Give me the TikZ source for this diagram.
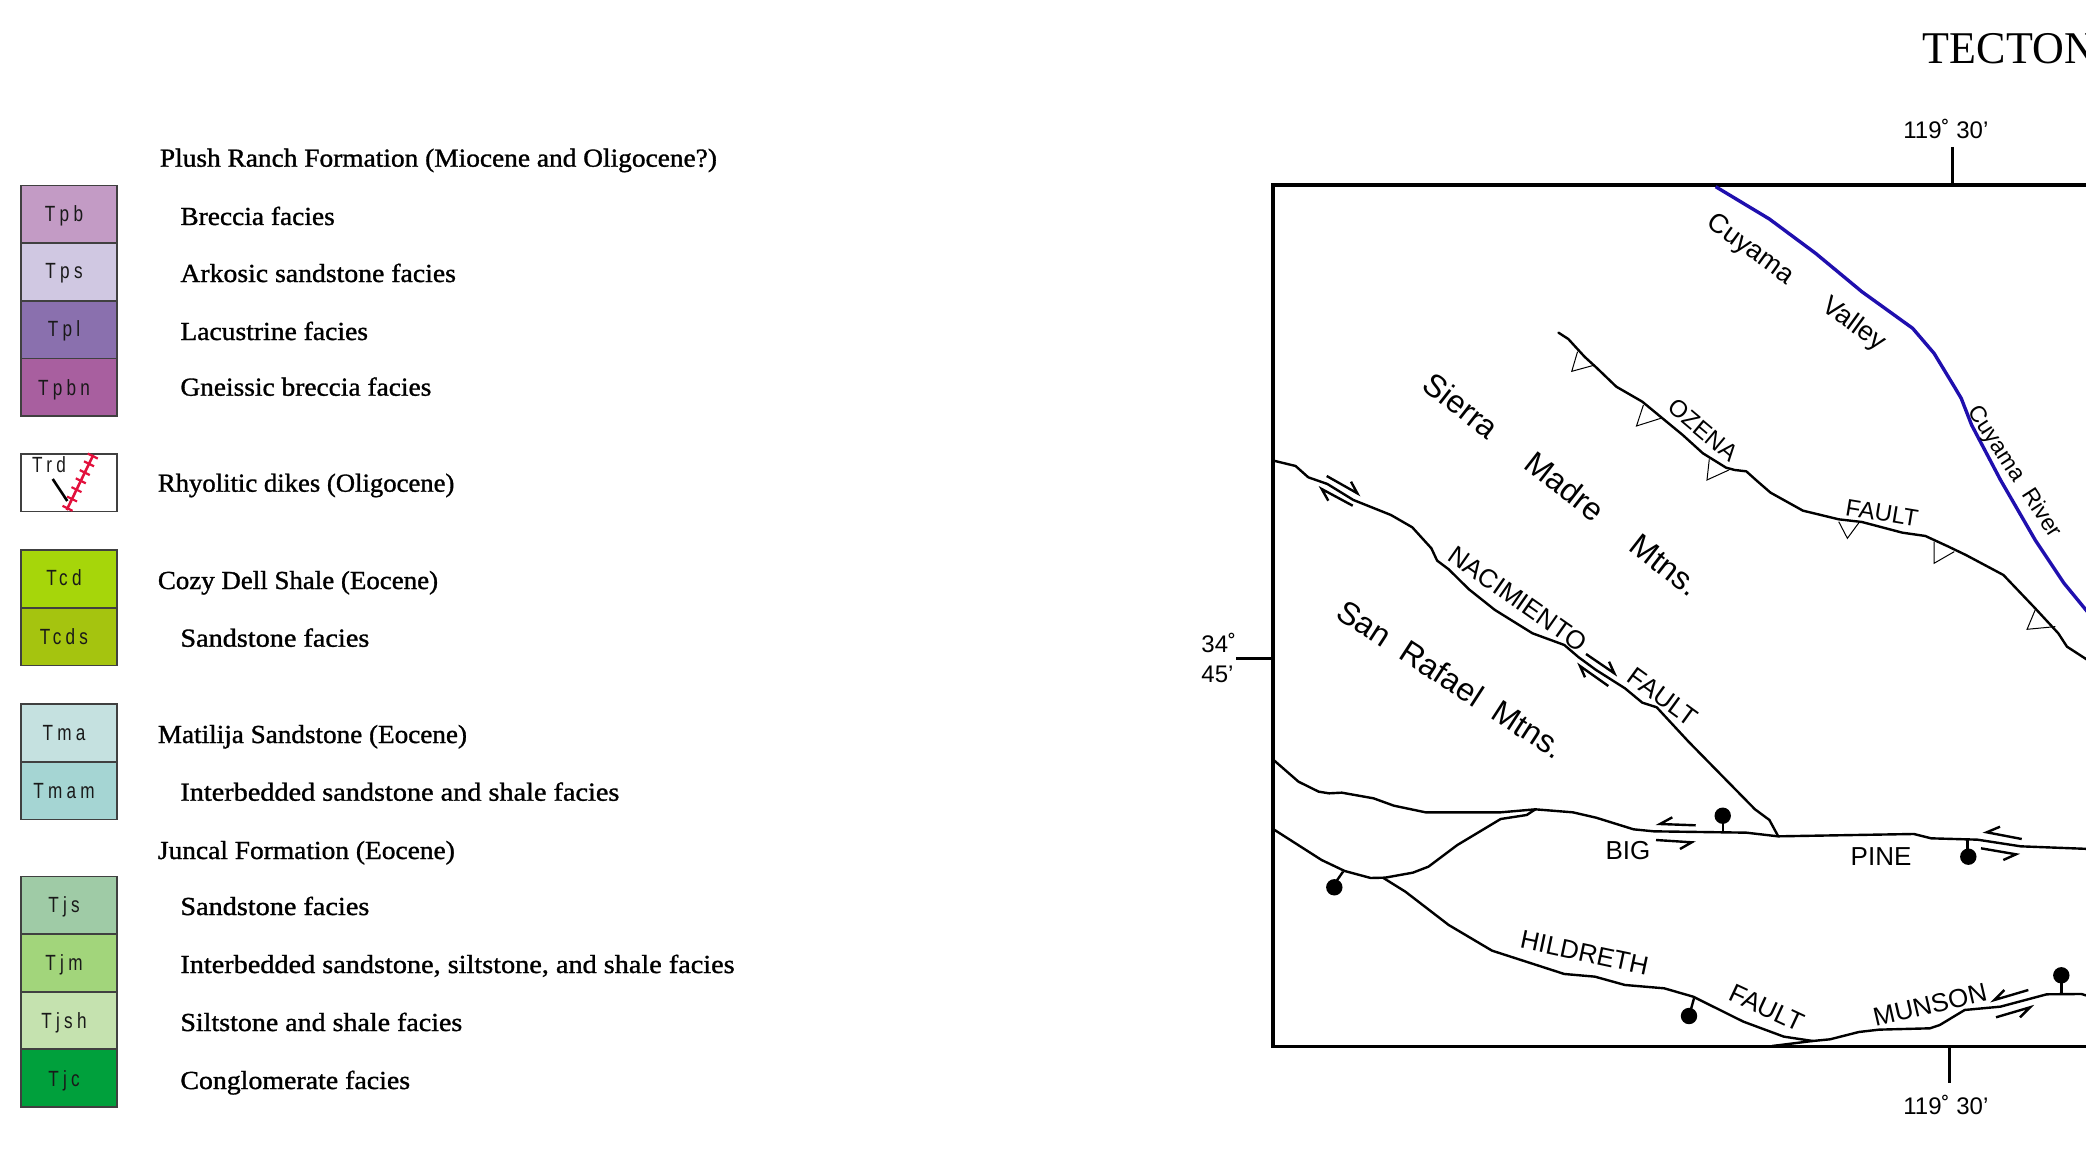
\documentclass[tikz,border=0pt]{standalone}
\usepackage{fontspec}
\usepackage{graphicx}
\usetikzlibrary{calc}
\setmainfont{Liberation Sans}
\newfontfamily\legfont[FakeBold=1.2,FakeStretch=1.04]{Liberation Serif}
\newfontfamily\boxfont[LetterSpace=25]{Liberation Sans}
\newfontfamily\titlefont{Liberation Serif}
\newcommand{\sx}[2]{\scalebox{#1}[1]{#2}}
\definecolor{cTpb}{HTML}{C39BC5}
\definecolor{cTps}{HTML}{D0C8E2}
\definecolor{cTpl}{HTML}{8A70AE}
\definecolor{cTpbn}{HTML}{A85F9F}
\definecolor{cTcd}{HTML}{A6D60A}
\definecolor{cTcds}{HTML}{A5C40F}
\definecolor{cTma}{HTML}{C5E1E0}
\definecolor{cTmam}{HTML}{A5D5D3}
\definecolor{cTjs}{HTML}{9FCBA6}
\definecolor{cTjm}{HTML}{A2D57B}
\definecolor{cTjsh}{HTML}{C5E2AF}
\definecolor{cTjc}{HTML}{00A03C}
\definecolor{riverblue}{HTML}{1F0FAE}
\definecolor{dikered}{HTML}{E2103C}
\tikzset{
  unit/.style={draw=black!75,line width=0.6pt},
  boxlabel/.style={anchor=base,inner sep=0pt,font=\boxfont\fontsize{11}{13}\selectfont,text=black!90},
  legtext/.style={anchor=base west,inner sep=0pt,font=\legfont\fontsize{13}{15}\selectfont},
  coord/.style={anchor=base west,inner sep=0pt,font=\fontsize{12}{14}\selectfont},
  maplab/.style={inner sep=0pt,font=\fontsize{13}{15}\selectfont},
  smalllab/.style={inner sep=0pt,font=\fontsize{12}{14}\selectfont},
  rangelab/.style={inner sep=0pt,font=\fontsize{16}{18}\selectfont},
  frameline/.style={line width=1.7pt,line cap=rect},
  tickline/.style={line width=1.5pt},
  fault/.style={line width=1.2pt,line join=round,line cap=round},
  barb/.style={line width=0.5pt},
  halfarrow/.style={line width=1.2pt,line join=miter},
  river/.style={color=riverblue,line width=1.7pt,line join=round},
  cropB/.style={shift={(1180,300)},xscale=0.5778,yscale=0.3333},
  cropC/.style={shift={(1180,740)},xscale=0.5778,yscale=0.3333},
}
\begin{document}
\begin{tikzpicture}[x=0.5pt,y=-0.5pt]
\useasboundingbox (0,0) rectangle (2086,1150);
\clip (0,0) rectangle (2086,1150);
% legend boxes
\foreach \n/\a/\b in {Tpb/185.7/243,Tps/243/301,Tpl/301/358.7,Tpbn/358.7/416,
  Tcd/550/608,Tcds/608/665.7,Tma/704/762,Tmam/762/819.7,
  Tjs/876.7/934,Tjm/934/992,Tjsh/992/1049,Tjc/1049/1107}
  {\draw[unit,fill=c\n] (21,\a) rectangle (117,\b);}
\foreach \n/\y in {Tpb/221.7,Tps/278.7,Tpl/336.7,Tpbn/395,Tcd/585.7,Tcds/644,Tma/740.7,Tmam/798,Tjs/912.7,Tjm/970,Tjsh/1028,Tjc/1086}
  {\node[boxlabel] (lab\n) at (64,\y) {\sx{0.78}{\n}};}
% Trd box
\draw[unit] (21,454) rectangle (117,511.5);
\node[boxlabel] (labTrd) at (49,472.7) {\sx{0.78}{Trd}};
\coordinate (dikeA) at (66.7,510);
\coordinate (dikeB) at (93.3,455);
\draw[color=dikered,line width=1.3pt] (dikeA) -- (dikeB);
\foreach \f in {0.03,0.2,0.37,0.53,0.68,0.84,0.98}
  {\draw[color=dikered,line width=1.1pt] ($(dikeA)!\f!(dikeB)+(-5,-2.5)$) -- ($(dikeA)!\f!(dikeB)+(5,2.5)$);}
\draw[line width=1.3pt] (52.7,479) -- (67.3,501);
% legend texts
\node[legtext] (t1) at (159.5,166.7) {\sx{1.012}{Plush Ranch Formation (Miocene and Oligocene?)}};
\node[legtext] (t2) at (180,225) {\sx{1.013}{Breccia facies}};
\node[legtext] (t3) at (180,282) {\sx{1.025}{Arkosic sandstone facies}};
\node[legtext] (t4) at (180,340) {\sx{1.02}{Lacustrine facies}};
\node[legtext] (t5) at (180,395.7) {\sx{1.013}{Gneissic breccia facies}};
\node[legtext] (t6) at (157.5,491.7) {\sx{0.987}{Rhyolitic dikes (Oligocene)}};
\node[legtext] (t7) at (157.5,589) {\sx{0.995}{Cozy Dell Shale (Eocene)}};
\node[legtext] (t8) at (180,646.7) {\sx{1.044}{Sandstone facies}};
\node[legtext] (t9) at (157.5,743) {\sx{1.004}{Matilija Sandstone (Eocene)}};
\node[legtext] (t10) at (180,800.7) {\sx{1.044}{Interbedded sandstone and shale facies}};
\node[legtext] (t11) at (157.5,859) {\sx{1.014}{Juncal Formation (Eocene)}};
\node[legtext] (t12) at (180,915) {\sx{1.044}{Sandstone facies}};
\node[legtext] (t13) at (180,973) {\sx{1.044}{Interbedded sandstone, siltstone, and shale facies}};
\node[legtext] (t14) at (180,1031) {\sx{1.034}{Siltstone and shale facies}};
\node[legtext] (t15) at (180,1089) {\sx{1.03}{Conglomerate facies}};
% title
\node[anchor=base west,inner sep=0pt,font=\titlefont\fontsize{22.7}{26}\selectfont] (title) at (1922.5,63.3) {\sx{0.97}{TECTON}};
% frame and ticks
\draw[frameline] (2100,185) -- (1273,185) -- (1273,1046.7) -- (2100,1046.7);
\draw[tickline] (1952,147) -- (1952,185);
\draw[tickline] (1949.6,1046.7) -- (1949.6,1083);
\draw[tickline] (1236,658) -- (1273,658);
\node[coord] (ctop) at (1903,139) {119˚ 30'};
\node[coord] (cbot) at (1903,1114) {119˚ 30'};
\node[coord] (cl1) at (1201,652.7) {34˚};
\node[coord] (cl2) at (1201,682.7) {45'};
% river
\begin{scope}[cropB]
\draw[river] (927,-340) -- (1020,-243) -- (1100,-140) -- (1180,-25) -- (1268,85) -- (1305,160) -- (1340,260) -- (1352,295) -- (1370,375) -- (1420,540) -- (1450,630) -- (1480,720) -- (1530,850) -- (1575,945);
% Ozena fault
\draw[fault] (655,98) -- (672,117) -- (700,170) -- (722,205) -- (755,260) -- (800,305) -- (835,355) -- (870,405) -- (905,460) -- (945,503) -- (960,510) -- (980,514) -- (1000,545) -- (1022,578) -- (1078,632) -- (1140,658) -- (1180,666) -- (1250,698) -- (1290,708) -- (1330,740) -- (1360,765) -- (1425,825) -- (1480,925) -- (1520,1000) -- (1535,1040) -- (1575,1085);
\draw[barb] (688,155) -- (678,214) -- (718,195);
\draw[barb] (802,315) -- (790,378) -- (832,355);
\draw[barb] (916,478) -- (912,540) -- (950,510);
\draw[barb] (1140,665) -- (1155,715) -- (1175,668);
\draw[barb] (1305,725) -- (1305,790) -- (1340,755);
\draw[barb] (1480,930) -- (1466,988) -- (1515,980);
% Nacimiento fault
\draw[fault] (162,482) -- (200,498) -- (222,532) -- (255,552) -- (300,600) -- (365,645) -- (402,682) -- (435,745) -- (445,782) -- (465,808) -- (500,868) -- (545,930) -- (610,1000) -- (665,1035) -- (690,1072) -- (720,1110) -- (770,1165) -- (800,1208) -- (825,1222) -- (880,1325) -- (995,1528) -- (1020,1560) -- (1035,1608);
\end{scope}
\begin{scope}[cropC]
% Big Pine fault
\draw[fault] (162,60) -- (205,125) -- (240,155) -- (258,160) -- (280,158) -- (335,175) -- (370,197) -- (425,217) -- (555,217) -- (615,208) -- (680,217) -- (720,233) -- (785,268) -- (820,274) -- (980,278) -- (1035,289) -- (1270,282) -- (1300,295) -- (1380,299) -- (1455,319) -- (1575,327);
\draw[fault] (162,268) -- (245,360) -- (285,393) -- (330,414) -- (355,413) -- (403,398) -- (430,380) -- (480,315) -- (555,237) -- (600,225) -- (615,208);
% Hildreth fault
\draw[fault] (352,414) -- (390,455) -- (465,555) -- (540,632) -- (665,702) -- (718,710) -- (770,735) -- (838,745) -- (888,770) -- (975,845) -- (1045,890) -- (1095,903);
% Munson fault
\draw[fault] (1025,918) -- (1095,903) -- (1125,898) -- (1175,876) -- (1210,869) -- (1298,865) -- (1315,855) -- (1358,810) -- (1420,800) -- (1500,763) -- (1560,762) -- (1575,770);
\end{scope}
% half arrows
\draw[halfarrow] (1326.7,476) -- (1357.3,493.3) -- (1351,481.7);
\draw[halfarrow] (1352.7,505.7) -- (1321.7,489) -- (1328.3,500.7);
\draw[halfarrow] (1586,654) -- (1614.3,673.3) -- (1609,661.7);
\draw[halfarrow] (1608.3,686) -- (1580,666) -- (1585,677.3);
\draw[halfarrow] (1695.7,825.3) -- (1660,824) -- (1672.3,817.3);
\draw[halfarrow] (1656,840) -- (1691.7,842.3) -- (1680,849);
\draw[halfarrow] (2021.7,839) -- (1986.7,832.3) -- (2000,826.7);
\draw[halfarrow] (1981,848.3) -- (2016,854.3) -- (2003.3,860);
\draw[halfarrow] (2028.3,990) -- (1994.3,1000) -- (2004.3,990);
\draw[halfarrow] (1996,1017.3) -- (2030,1007.3) -- (2020,1017.3);
% slip indicators with balls
\foreach \x/\y/\xa/\ya/\xb/\yb in {1334.3/887.3/1343/871.7/1336/881.7,
  1689/1016/1694/998.3/1691/1009,
  1722.7/815.7/1722.7/831.7/1722.7/820,
  1968.3/856.7/1967.3/840/1967.3/850,
  2061.3/975.3/2061.3/992.7/2061.3/980}
  {\draw[line width=1.2pt] (\xa,\ya) -- (\xb,\yb);
   \fill (\x,\y) circle [radius=4.1pt];}
% map labels
\node[inner sep=0pt,rotate=-36,font=\fontsize{13.5}{15}\selectfont] (cuy) at (1796,283) {Cuyama\hspace{1.55em}Valley};
\node[inner sep=0pt,rotate=-57,font=\fontsize{11.5}{13}\selectfont] (riv) at (2014,472) {Cuyama\hspace{0.3em} River};
\node[smalllab,rotate=-40] (oz) at (1703,430) {OZENA};
\node[smalllab,rotate=-9.5] (fa1) at (1882,513) {FAULT};
\node[maplab,rotate=-35] (nac) at (1518,599) {NACIMIENTO};
\node[maplab,rotate=-36] (fa2) at (1663,697) {FAULT};
\node[rangelab,rotate=-38] (sm) at (1562,484) {Sierra\hspace{1.35em}Madre\hspace{1.35em}Mtns.};
\node[rangelab,rotate=-33] (sr) at (1451,679) {San\hspace{0.55em}Rafael\hspace{0.55em}Mtns.};
\node[maplab] (big) at (1628,851) {BIG};
\node[maplab] (pine) at (1881,857) {PINE};
\node[maplab,rotate=-12] (hil) at (1584.5,952.7) {HILDRETH};
\node[maplab,rotate=-25] (fa3) at (1766.5,1008) {FAULT};
\node[maplab,rotate=13] (mun) at (1930,1005) {MUNSON};
\end{tikzpicture}
\end{document}
